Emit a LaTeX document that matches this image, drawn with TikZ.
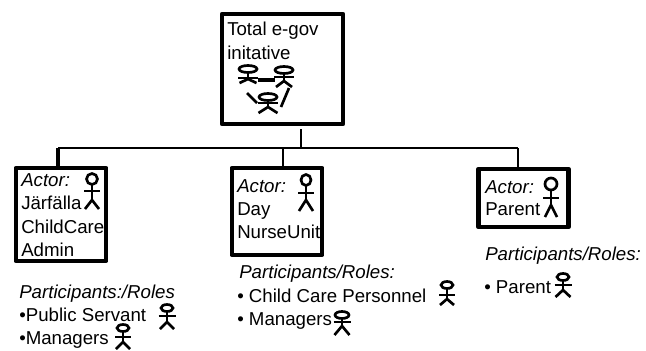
\documentclass[tikz,border=0pt]{standalone}
\usepackage{fontspec}
\setmainfont{Liberation Sans}
\usetikzlibrary{positioning}
\tikzset{
    framebox/.style={draw, line width=3.2pt, line join=round, inner sep=0pt},
    busline/.style={line width=1.8pt},
    actorline/.style={line width=2pt},
    label/.style={anchor=base west, inner sep=0pt, font=\fontsize{14}{16}\selectfont},
    rolelabel/.style={label, font=\fontsize{14}{16}\selectfont\itshape}
}

\begin{document}
\begin{tikzpicture}[x=.75pt, y=-.75pt]
    \useasboundingbox (0,0) rectangle (646,350);
    % boxes
    \node[framebox, minimum width=90.75pt, minimum height=82.5pt] (totalbox) at (282.5,69) {};
    \node[framebox, minimum width=68pt, minimum height=69.5pt] (jarfallabox) at (61,214.5) {};
    \node[framebox, minimum width=68pt, minimum height=65pt] (dayunitbox) at (277,211.5) {};
    \node[framebox, minimum width=67.5pt, minimum height=44pt] (parentbox) at (523.5,198) {};
    % bus
    \coordinate (stubtop) at (301,129);
    \coordinate (busleft) at (58,148);
    \coordinate (busmid) at (283,148);
    \coordinate (bustop) at (301,148);
    \coordinate (busright) at (518,148);
    \draw[busline] (busleft) -- (busright);
    \draw[busline] (stubtop) -- (bustop);
    \draw[busline, line width=2.4pt] (busleft) -- (busleft |- jarfallabox.north);
    \draw[busline] (busmid) -- (busmid |- dayunitbox.north);
    \draw[busline, line width=1.2pt] (busright) -- (busright |- parentbox.north);
    % top box text
    \node[label] (totalone) at (227,35) {Total e-gov};
    \node[label] (totaltwo) at (227,59) {initative};
    % left column
    \node[rolelabel] (jactor) at (21,186) {Actor:};
    \node[label] (jone) at (21,209) {Järfälla};
    \node[label] (jtwo) at (21,233) {ChildCare};
    \node[label] (jthree) at (21,256) {Admin};
    \node[rolelabel] (jroles) at (19,298) {Participants:/Roles};
    \node[label] (jpublic) at (19,321) {•Public Servant};
    \node[label] (jmanagers) at (19,344) {•Managers};
    % middle column
    \node[rolelabel] (dactor) at (237,192) {Actor:};
    \node[label] (done) at (237,215) {Day};
    \node[label] (dtwo) at (237,238) {NurseUnit};
    \node[rolelabel] (droles) at (239,278) {Participants/Roles:};
    \node[label] (dcare) at (237,302) {• Child Care Personnel};
    \node[label] (dmanagers) at (237,325) {• Managers};
    % right column
    \node[rolelabel] (pactor) at (485,193) {Actor:};
    \node[label] (pone) at (485,215) {Parent};
    \node[rolelabel] (proles) at (485,260) {Participants/Roles:};
    \node[label] (pparent) at (484,293) {• Parent};
    % stick figures: x, head y, head radii, neck y, arm half width, arm y, hip y, foot half width, foot y
    \foreach \ax/\hy/\rx/\ry/\ny/\aw/\ay/\hp/\fw/\fy in {
        92/179/5.5/5.5/185/8/191/200/7/209,
        306/180/5/5.5/186/8/193/200/7/211,
        551/184/6/6/190/8/198/205/6/217,
        167/308/6/3.5/312/8.5/316/322/7/329,
        123/328/6/3.5/332/8/337/342/7/349,
        447/285/6/3.5/289/8/295/299/7/305,
        342/315/7/3.5/319/8.5/322/326/7.5/335,
        563/277/6/3.5/281/8.5/285/290/7.5/297,
        248/69/9/3.5/73/10/78/79/8.5/83,
        284/70/9/3.5/74/10/77/81/8/87,
        268/97/9/3.5/101/10/103/107/9.5/113}
    {
        \draw[actorline] (\ax,\hy) ellipse [x radius=\rx*.75pt, y radius=\ry*.75pt];
        \draw[actorline] (\ax,\ny) -- (\ax,\hp);
        \draw[actorline] (\ax-\aw,\ay) -- (\ax+\aw,\ay);
        \draw[actorline] (\ax-\fw,\fy) -- (\ax,\hp) -- (\ax+\fw,\fy);
    }
    % links between the three figures
    \draw[line width=2.6pt] (258,80) -- (275,80);
    \draw[actorline] (247,93) -- (257,103);
    \draw[actorline] (289,88) -- (281,107);
\end{tikzpicture}
\end{document}
